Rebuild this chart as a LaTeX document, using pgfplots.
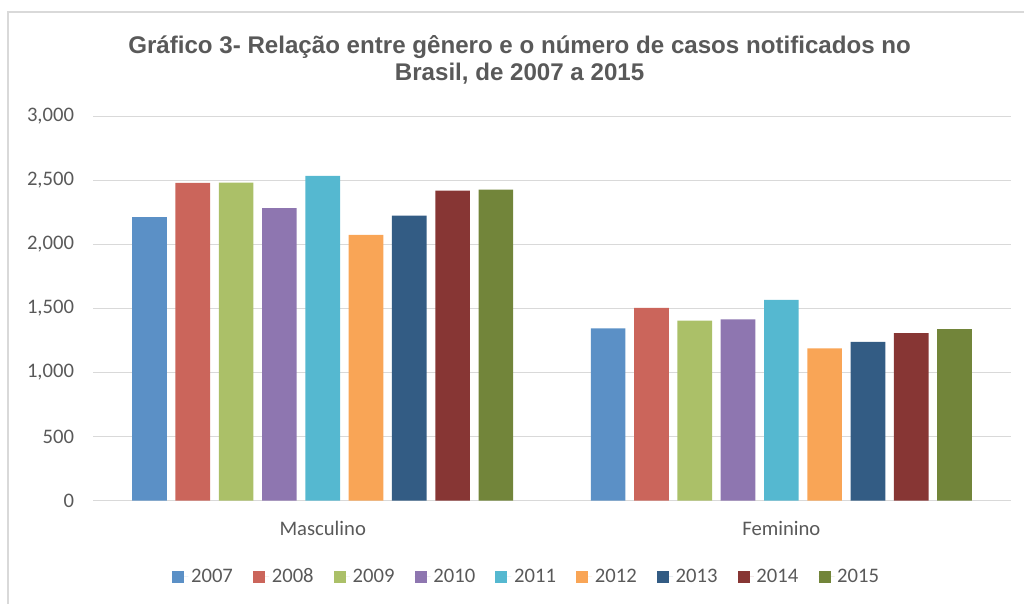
\documentclass[border=0pt]{standalone}
\usepackage{pgfplots}
\pgfplotsset{compat=1.18}
\usepackage{fontspec}
\setmainfont{Carlito}
\newfontfamily\titlefont{Liberation Sans}
\definecolor{txtgray}{HTML}{595959}
\definecolor{gridgray}{HTML}{D9D9D9}
\definecolor{c07}{HTML}{5B90C6}
\definecolor{c08}{HTML}{CB655B}
\definecolor{c09}{HTML}{ABC068}
\definecolor{c10}{HTML}{8E76B0}
\definecolor{c11}{HTML}{55B8D0}
\definecolor{c12}{HTML}{F9A556}
\definecolor{c13}{HTML}{335C84}
\definecolor{c14}{HTML}{873634}
\definecolor{c15}{HTML}{72853A}
\begin{document}
\begin{tikzpicture}[x=0.75pt,y=0.75pt]
\path (0,0) rectangle (1025,604);
\draw[gridgray,line width=1.2pt] (8,0) -- (8,592) -- (1025,592);
\node[font=\titlefont\bfseries\fontsize{18.1}{20.25}\selectfont, text=txtgray, align=center] at (520,544)
  {Gráfico 3- Relação entre gênero e o número de casos notificados no\\Brasil, de 2007 a 2015};
\begin{axis}[
  at={(70.1pt,77.25pt)}, anchor=south west,
  scale only axis, width=688.5pt, height=288.5pt,
  ybar=6.5pt, bar width=26pt,
  xmin=-0.5, xmax=1.5, ymin=0, ymax=3000,
  xtick={0,1}, xticklabels={Masculino,Feminino},
  ytick={0,500,1000,1500,2000,2500,3000},
  ymajorgrids, grid style={gridgray, line width=0.9pt},
  axis line style={draw=none},
  major tick length=0pt,
  tick label style={font=\fontsize{15.5}{18}\selectfont, text=txtgray},
  /pgf/number format/.cd, 1000 sep={,}, assume math mode=true, /pgfplots/.cd,
  yticklabel style={xshift=-11pt},
  xticklabel style={yshift=-11.75pt},
  legend style={at={(0.4728,-0.1976)}, anchor=center, draw=none, fill=none,
    legend columns=9, font=\fontsize{15.5}{18}\selectfont, text=txtgray,
    /tikz/every even column/.append style={column sep=13.2pt}},
  legend image code/.code={\fill[#1] (0pt,-4.5pt) rectangle (9pt,4.5pt); \path (0pt,0pt) -- (12pt,0pt);},
]
\addplot[fill=c07, draw=none] coordinates {(0,2212) (1,1344)};
\addplot[fill=c08, draw=none] coordinates {(0,2480) (1,1505)};
\addplot[fill=c09, draw=none] coordinates {(0,2482) (1,1404)};
\addplot[fill=c10, draw=none] coordinates {(0,2283) (1,1414)};
\addplot[fill=c11, draw=none] coordinates {(0,2534) (1,1567)};
\addplot[fill=c12, draw=none] coordinates {(0,2074) (1,1188)};
\addplot[fill=c13, draw=none] coordinates {(0,2225) (1,1238)};
\addplot[fill=c14, draw=none] coordinates {(0,2420) (1,1308)};
\addplot[fill=c15, draw=none] coordinates {(0,2428) (1,1339)};
\legend{2007,2008,2009,2010,2011,2012,2013,2014,2015}
\end{axis}
\end{tikzpicture}
\end{document}
